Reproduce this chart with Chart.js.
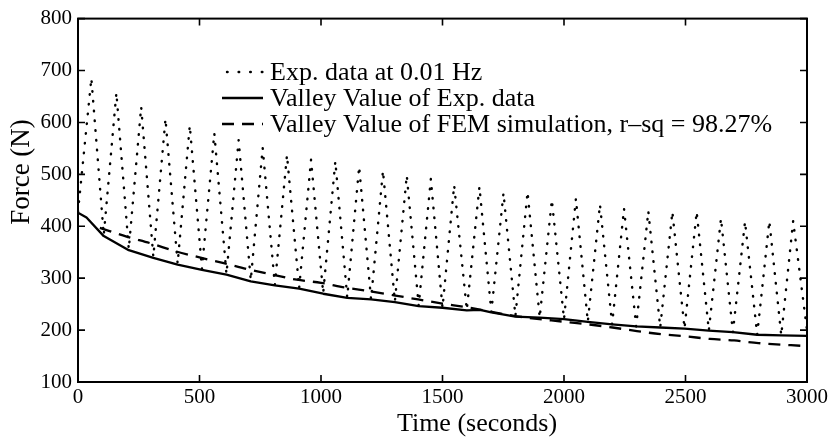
<!DOCTYPE html>
<html>
<head>
<meta charset="utf-8">
<script src="https://cdn.jsdelivr.net/npm/chart.js@4.4.1/dist/chart.umd.min.js"></script>
<style>
  html, body { margin: 0; padding: 0; background: #fff; }
  canvas { display: block; }
</style>
</head>
<body>
<canvas id="c" width="832" height="441"></canvas>
<script>
// ---- data ----
const xTicks = [0, 500, 1000, 1500, 2000, 2500, 3000];
const yTicks = [100, 200, 300, 400, 500, 600, 700, 800];
const xTitle = 'Time (seconds)';
const yTitle = 'Force (N)';

// Peaks of the 0.01 Hz experimental signal
const peakTimes  = [55, 158, 260, 360, 460, 561, 661, 760, 860, 959, 1059, 1157, 1255, 1353, 1452,
                    1548, 1652, 1751, 1850, 1950, 2049, 2148, 2247, 2347, 2446, 2546, 2646, 2745, 2845, 2943];
const peakForces = [685, 657, 630, 607, 594, 579, 566, 551, 537, 528, 525, 515, 507, 498, 491,
                    479, 476, 464, 466, 451, 453, 442, 434, 429, 428, 428, 415, 409, 410, 410];

// Valleys of the experimental signal
const valleyTimes  = [0, 106, 209, 310, 410, 510, 611, 711, 810, 910, 1009, 1108, 1206, 1304, 1402,
                      1500, 1600, 1701, 1800, 1900, 2000, 2098, 2198, 2297, 2396, 2496, 2596, 2695, 2795, 2894, 3000];
const valleyForces = [428, 383, 356, 341, 328, 318, 308, 296, 287, 281, 271, 263, 259, 255, 247,
                      243, 239, 235, 227, 224, 221, 216, 211, 207, 205, 203, 199, 196, 191, 190, 200];

// Solid line: valley value of experimental data
const expValleyTimes  = [0, 35, 106, 209, 310, 410, 510, 611, 711, 810, 910, 1009, 1108, 1206, 1304, 1402,
                         1500, 1600, 1655, 1701, 1800, 1900, 2000, 2098, 2198, 2297, 2396, 2496, 2596, 2695, 2795, 2894, 3000];
const expValleyForces = [426, 417, 381, 354, 339, 326, 316, 307, 294, 286, 280, 270, 262, 259, 254, 246,
                         243, 238, 239, 234, 226, 224, 221, 216, 211, 207, 205, 203, 199, 196, 191, 190, 189];

// Dashed line: FEM simulation valley value
const femTimes  = [90, 200, 300, 400, 500, 600, 700, 800, 900, 1000, 1100, 1200, 1300, 1400, 1500,
                   1600, 1800, 2000, 2100, 2200, 2300, 2400, 2500, 2600, 2700, 2800, 3000];
const femForces = [397, 380, 367, 352, 340, 329, 317, 307, 297, 291, 282, 275, 267, 259, 251,
                   244, 227, 216, 211, 205, 198, 192, 188, 183, 180, 175, 169];

const seriesLabels = [
  'Exp. data at 0.01 Hz',
  'Valley Value of Exp. data',
  'Valley Value of FEM simulation, r\u2013sq = 98.27%'
];

// ---- build datasets ----
function pts(xs, ys) { return xs.map((x, i) => ({ x: x, y: ys[i] })); }
const expSignal = [];
for (let i = 0; i < valleyTimes.length; i++) {
  expSignal.push({ x: valleyTimes[i], y: valleyForces[i] });
  if (i < peakTimes.length) expSignal.push({ x: peakTimes[i], y: peakForces[i] });
}

const SERIF = "'Liberation Serif', 'Times New Roman', serif";
const styles = [
  { dash: [0.6, 9.2], width: 2.4, cap: 'round' },
  { dash: [], width: 2.3, cap: 'butt' },
  { dash: [12, 8], width: 2.3, cap: 'butt' }
];

const framePlugin = {
  id: 'frame',
  afterDraw(chart) {
    const ctx = chart.ctx;
    const a = chart.chartArea;
    const xs = chart.scales.x, ys = chart.scales.y;
    ctx.save();
    ctx.strokeStyle = '#000';
    ctx.lineWidth = 2;
    ctx.strokeRect(a.left, a.top, a.right - a.left, a.bottom - a.top);
    const tl = 7;
    ctx.lineWidth = 1.6;
    ctx.beginPath();
    xs.ticks.forEach(t => {
      const px = xs.getPixelForValue(t.value);
      ctx.moveTo(px, a.bottom); ctx.lineTo(px, a.bottom - tl);
      ctx.moveTo(px, a.top); ctx.lineTo(px, a.top + tl);
    });
    ys.ticks.forEach(t => {
      const py = ys.getPixelForValue(t.value);
      ctx.moveTo(a.left, py); ctx.lineTo(a.left + tl, py);
      ctx.moveTo(a.right, py); ctx.lineTo(a.right - tl, py);
    });
    ctx.stroke();

    // axis titles
    ctx.fillStyle = '#000';
    ctx.textAlign = 'center';
    ctx.textBaseline = 'middle';
    ctx.font = '26px ' + SERIF;
    ctx.fillText(xTitle, 477, 424);
    ctx.save();
    ctx.translate(22, 172);
    ctx.rotate(-Math.PI / 2);
    ctx.font = '27px ' + SERIF;
    ctx.fillText(yTitle, 0, 0);
    ctx.restore();

    // legend inside the plot
    const rowsY = [72, 98, 124];
    const x0 = 222, x1 = 263, tx = 270;
    ctx.font = '26px ' + SERIF;
    ctx.textAlign = 'left';
    seriesLabels.forEach((lab, i) => {
      const y = rowsY[i];
      ctx.beginPath();
      ctx.lineWidth = styles[i].width;
      ctx.lineCap = styles[i].cap;
      ctx.setLineDash(i === 0 ? [0.6, 11] : styles[i].dash);
      ctx.moveTo(i === 0 ? 227 : x0, y);
      ctx.lineTo(x1, y);
      ctx.stroke();
      ctx.setLineDash([]);
      ctx.lineCap = 'butt';
      ctx.fillText(lab, tx, y + 1);
    });
    ctx.restore();
  }
};

new Chart(document.getElementById('c'), {
  type: 'line',
  data: {
    datasets: [
      { label: seriesLabels[0], data: expSignal, borderColor: '#000', borderWidth: styles[0].width,
        borderDash: styles[0].dash, borderCapStyle: styles[0].cap, borderJoinStyle: 'round',
        pointRadius: 0, tension: 0, fill: false },
      { label: seriesLabels[1], data: pts(expValleyTimes, expValleyForces), borderColor: '#000',
        borderWidth: styles[1].width, borderJoinStyle: 'round', pointRadius: 0, tension: 0, fill: false },
      { label: seriesLabels[2], data: pts(femTimes, femForces), borderColor: '#000',
        borderWidth: styles[2].width, borderDash: styles[2].dash, pointRadius: 0,
        cubicInterpolationMode: 'monotone', fill: false }
    ]
  },
  options: {
    responsive: false,
    animation: false,
    devicePixelRatio: 1,
    layout: { padding: { top: 15, right: 25, left: 0, bottom: 0 } },
    plugins: { legend: { display: false }, tooltip: { enabled: false } },
    scales: {
      x: {
        type: 'linear', min: 0, max: 3000,
        afterBuildTicks: s => { s.ticks = xTicks.map(v => ({ value: v })); },
        afterFit: s => { s.height = 59; },
        ticks: { color: '#000', font: { family: SERIF, size: 21 }, padding: 3, maxRotation: 0,
                 callback: v => String(v) },
        grid: { display: false, drawTicks: false },
        border: { display: false },
        title: { display: false }
      },
      y: {
        type: 'linear', min: 100, max: 800,
        afterBuildTicks: s => { s.ticks = yTicks.map(v => ({ value: v })); },
        afterFit: s => { s.width = 78; },
        ticks: { color: '#000', font: { family: SERIF, size: 21 }, padding: 6,
                 callback: v => String(v) },
        grid: { display: false, drawTicks: false },
        border: { display: false },
        title: { display: false }
      }
    }
  },
  plugins: [framePlugin]
});
</script>
</body>
</html>
